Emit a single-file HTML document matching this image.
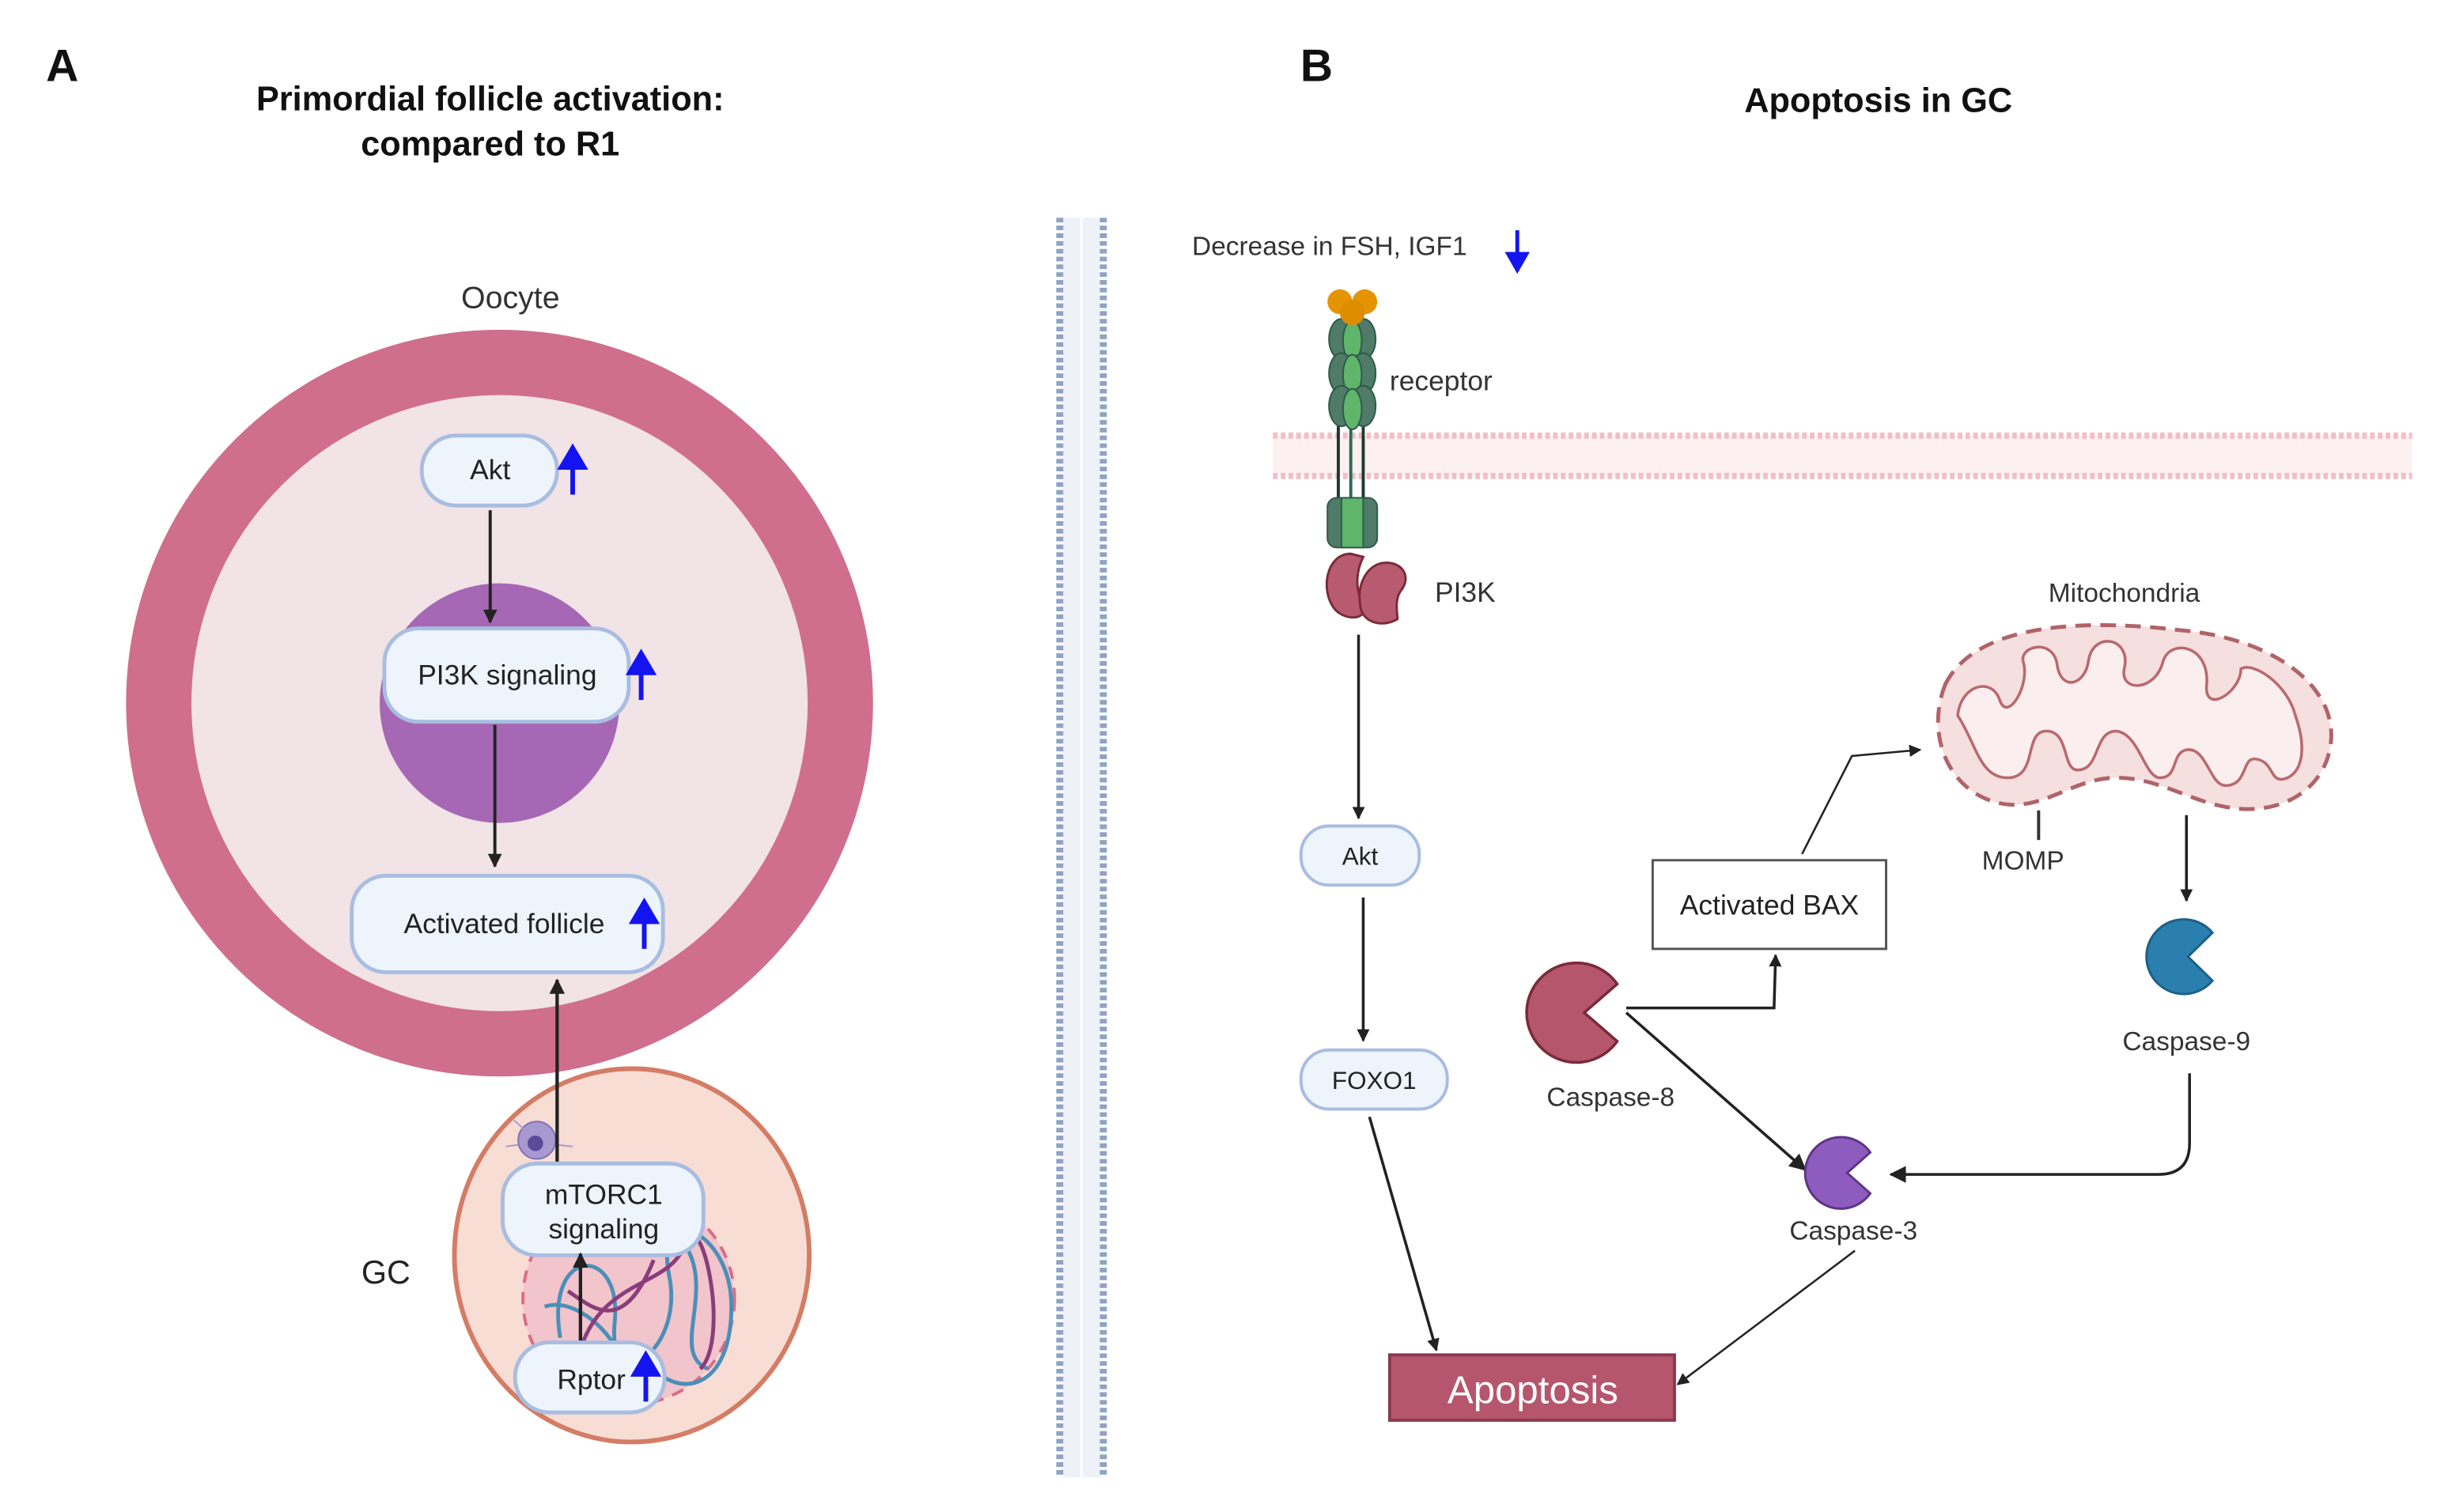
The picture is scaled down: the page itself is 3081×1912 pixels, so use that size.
<!DOCTYPE html>
<html><head><meta charset="utf-8"><style>html,body{margin:0;padding:0;background:#fff}svg{display:block}text{font-family:"Liberation Sans",sans-serif}</style></head>
<body>
<svg width="3081" height="1912" viewBox="0 0 1566 972" preserveAspectRatio="none" xmlns="http://www.w3.org/2000/svg">
<defs>
<marker id="ah" viewBox="0 0 10 10" refX="9" refY="5" markerWidth="4.5" markerHeight="4.5" orient="auto"><path d="M0,0 L10,5 L0,10 z" fill="#222"/></marker>
<marker id="ahs" viewBox="0 0 10 10" refX="9" refY="5" markerWidth="6" markerHeight="6" orient="auto"><path d="M0,0 L10,5 L0,10 z" fill="#222"/></marker>
</defs>

<!-- Panel A -->
<text x="40" y="52" font-size="29" font-weight="bold" text-anchor="middle" fill="#111">A</text>
<text x="315" y="71" font-size="22" font-weight="bold" text-anchor="middle" fill="#111">Primordial follicle activation:</text>
<text x="315" y="100" font-size="22" font-weight="bold" text-anchor="middle" fill="#111">compared to R1</text>
<text x="328" y="198" font-size="20" text-anchor="middle" fill="#333">Oocyte</text>

<circle cx="321" cy="452" r="219" fill="#f1e3e6" stroke="#d06e8e" stroke-width="42"/>
<circle cx="321" cy="452" r="77" fill="#a668b5"/>

<rect x="271" y="280" width="87" height="45" rx="22" fill="#eef4fc" stroke="#a8bde0" stroke-width="2.5"/>
<text x="315" y="308" font-size="18" text-anchor="middle" fill="#222">Akt</text>
<line x1="315" y1="328" x2="315" y2="400" stroke="#222" stroke-width="2" marker-end="url(#ah)"/>
<rect x="247" y="404" width="157" height="60" rx="22" fill="#eef4fc" stroke="#a8bde0" stroke-width="2.5"/>
<text x="326" y="440" font-size="18" text-anchor="middle" fill="#222">PI3K signaling</text>
<line x1="318" y1="466" x2="318" y2="557" stroke="#222" stroke-width="2" marker-end="url(#ah)"/>
<rect x="226" y="563" width="200" height="62" rx="22" fill="#eef4fc" stroke="#a8bde0" stroke-width="2.5"/>
<text x="324" y="600" font-size="18" text-anchor="middle" fill="#222">Activated follicle</text>

<!-- GC -->
<ellipse cx="406" cy="807" rx="114" ry="120" fill="#f8ddd5" stroke="#d47c65" stroke-width="3"/>
<circle cx="404" cy="835" r="68" fill="#f2c4cc" stroke="#dc6c86" stroke-width="2" stroke-dasharray="8,6"/>
<path d="M360 860 C350 800 400 800 395 850 S440 870 430 820 S470 790 470 840 S440 900 420 880 M350 840 C380 830 420 890 390 890 M440 800 C460 830 430 870 455 880" fill="none" stroke="#4a8fb8" stroke-width="2.5"/>
<path d="M370 880 C380 820 430 830 440 800 S470 860 450 880 M420 810 C400 860 380 840 365 830" fill="none" stroke="#8a3d7a" stroke-width="2.5"/>
<circle cx="345" cy="733" r="12" fill="#a89ad0" stroke="#8070b5" stroke-width="1"/>
<circle cx="344" cy="735" r="5" fill="#5a4a9a"/>
<g stroke="#a89ad0" stroke-width="1"><line x1="330" y1="720" x2="337" y2="726"/><line x1="325" y1="737" x2="333" y2="736"/><line x1="358" y1="736" x2="368" y2="737"/></g>
<text x="248" y="825" font-size="21" text-anchor="middle" fill="#222">GC</text>
<line x1="358" y1="747" x2="358" y2="630" stroke="#222" stroke-width="2.2" marker-end="url(#ah)"/>
<rect x="323" y="748" width="129" height="59" rx="22" fill="#eef4fc" stroke="#a8bde0" stroke-width="2.5"/>
<text x="388" y="774" font-size="18" text-anchor="middle" fill="#222">mTORC1</text>
<text x="388" y="796" font-size="18" text-anchor="middle" fill="#222">signaling</text>
<line x1="373" y1="863" x2="373" y2="806" stroke="#222" stroke-width="2.2" marker-end="url(#ah)"/>
<rect x="331" y="863" width="96" height="45" rx="22" fill="#eef4fc" stroke="#a8bde0" stroke-width="2.5"/>
<text x="380" y="893" font-size="18" text-anchor="middle" fill="#222">Rptor</text>

<!-- blue up arrows -->
<g fill="#1414f0" stroke="#1414f0">
<line x1="368" y1="318" x2="368" y2="295" stroke-width="3"/><path d="M358 302 L368 285 L378 302 z" stroke="none"/>
<line x1="412" y1="450" x2="412" y2="427" stroke-width="3"/><path d="M402 434 L412 417 L422 434 z" stroke="none"/>
<line x1="414" y1="610" x2="414" y2="587" stroke-width="3"/><path d="M404 594 L414 577 L424 594 z" stroke="none"/>
<line x1="415" y1="901" x2="415" y2="878" stroke-width="3"/><path d="M405 885 L415 868 L425 885 z" stroke="none"/>
<line x1="975" y1="148" x2="975" y2="168" stroke-width="2.5"/><path d="M967 162 L975 176 L983 162 z" stroke="none"/>
</g>

<!-- vertical membrane -->
<rect x="683" y="140" width="24" height="810" fill="#eef1f8"/>
<line x1="681" y1="140" x2="681" y2="950" stroke="#8ea3c6" stroke-width="4.5" stroke-dasharray="3,2"/>
<line x1="709" y1="140" x2="709" y2="950" stroke="#8ea3c6" stroke-width="4.5" stroke-dasharray="3,2"/>
<line x1="695" y1="140" x2="695" y2="950" stroke="#fff" stroke-width="1.5"/>

<!-- Panel B -->
<text x="846" y="52" font-size="29" font-weight="bold" text-anchor="middle" fill="#111">B</text>
<text x="1207" y="72" font-size="22" font-weight="bold" text-anchor="middle" fill="#111">Apoptosis in GC</text>
<text x="766" y="164" font-size="17" fill="#333">Decrease  in FSH, IGF1</text>

<!-- horizontal membrane -->
<rect x="818" y="280" width="732" height="26" fill="#fcf0f1"/>
<line x1="818" y1="280" x2="1550" y2="280" stroke="#f2bfc5" stroke-width="4" stroke-dasharray="3,2"/>
<line x1="818" y1="306" x2="1550" y2="306" stroke="#f2bfc5" stroke-width="4" stroke-dasharray="3,2"/>

<!-- receptor -->
<g stroke="#2e5a4a" stroke-width="1">
<line x1="860" y1="265" x2="860" y2="320" stroke="#1f3a30" stroke-width="2"/>
<line x1="868" y1="265" x2="868" y2="320" stroke="#2e6a5a" stroke-width="2"/>
<line x1="876" y1="265" x2="876" y2="320" stroke="#1f3a30" stroke-width="2"/>
<ellipse cx="862" cy="218" rx="8" ry="13" fill="#4f7b68"/><ellipse cx="876" cy="218" rx="8" ry="13" fill="#4f7b68"/><ellipse cx="869" cy="219" rx="6" ry="13" fill="#5fb56a"/>
<ellipse cx="862" cy="240" rx="8" ry="13" fill="#4f7b68"/><ellipse cx="876" cy="240" rx="8" ry="13" fill="#4f7b68"/><ellipse cx="869" cy="241" rx="6" ry="13" fill="#5fb56a"/>
<ellipse cx="862" cy="261" rx="8" ry="13" fill="#4f7b68"/><ellipse cx="876" cy="261" rx="8" ry="13" fill="#4f7b68"/><ellipse cx="869" cy="263" rx="6" ry="13" fill="#5fb56a"/>
<rect x="853" y="320" width="32" height="32" rx="6" fill="#4f7b68"/><rect x="862" y="320" width="14" height="32" fill="#5fb56a"/>
</g>
<circle cx="861" cy="194" r="8" fill="#e59400"/><circle cx="877" cy="194" r="8" fill="#e59400"/><circle cx="869" cy="201" r="8" fill="#de8c00"/>
<text x="893" y="251" font-size="18" fill="#333">receptor</text>
<!-- PI3K -->
<path d="M868 356 C852 356 848 380 858 392 C866 400 880 398 876 388 C870 378 872 366 876 358 Z" fill="#b85a70" stroke="#7a2a3a" stroke-width="1.5"/>
<path d="M888 362 C900 360 908 370 900 380 C896 386 898 394 898 398 C888 404 874 400 874 388 C872 376 878 364 888 362 Z" fill="#b85a70" stroke="#7a2a3a" stroke-width="1.5"/>
<text x="922" y="387" font-size="18" fill="#333">PI3K</text>

<line x1="873" y1="408" x2="873" y2="526" stroke="#222" stroke-width="1.8" marker-end="url(#ah)"/>
<rect x="836" y="531" width="76" height="38" rx="18" fill="#eef4fc" stroke="#a8bde0" stroke-width="2"/>
<text x="874" y="556" font-size="16" text-anchor="middle" fill="#222">Akt</text>
<line x1="876" y1="577" x2="876" y2="669" stroke="#222" stroke-width="1.8" marker-end="url(#ah)"/>
<rect x="836" y="675" width="94" height="38" rx="18" fill="#eef4fc" stroke="#a8bde0" stroke-width="2"/>
<text x="883" y="700" font-size="16" text-anchor="middle" fill="#222">FOXO1</text>
<line x1="880" y1="718" x2="923" y2="868" stroke="#222" stroke-width="1.8" marker-end="url(#ah)"/>

<rect x="893" y="871" width="183" height="42" fill="#b5566d" stroke="#8a3a4d" stroke-width="2"/>
<text x="985" y="902" font-size="25" text-anchor="middle" fill="#fff">Apoptosis</text>
<line x1="1192" y1="804" x2="1078" y2="890" stroke="#222" stroke-width="1.3" marker-end="url(#ahs)"/>

<rect x="1062" y="553" width="150" height="57" fill="#fff" stroke="#555" stroke-width="1.5"/>
<text x="1137" y="588" font-size="18" text-anchor="middle" fill="#222">Activated BAX</text>
<path d="M1158 549 L1190 486 L1234 482" fill="none" stroke="#222" stroke-width="1.3" marker-end="url(#ahs)"/>

<!-- mitochondria -->
<path d="M1250 440 C1270 400 1340 398 1400 405 C1460 410 1500 440 1498 475 C1496 505 1470 522 1440 520 C1410 518 1390 500 1360 500 C1330 500 1310 525 1280 515 C1250 505 1238 470 1250 440 Z" fill="#f6dfdf" stroke="#b0636a" stroke-width="2.5" stroke-dasharray="10,6"/>
<path d="M1258 460 C1260 440 1280 435 1285 450 C1290 465 1305 440 1300 425 C1298 415 1320 410 1322 428 C1325 445 1340 440 1342 425 C1345 405 1370 410 1365 430 C1362 445 1385 445 1390 425 C1395 410 1420 415 1418 440 C1416 460 1440 445 1440 430 C1448 425 1470 440 1475 460 C1482 480 1480 495 1470 500 C1458 505 1462 490 1450 488 C1440 486 1445 505 1430 505 C1420 505 1418 480 1405 482 C1395 484 1400 500 1388 500 C1378 500 1375 472 1360 470 C1345 470 1350 495 1335 495 C1325 495 1330 470 1315 470 C1300 470 1310 500 1290 500 C1272 500 1270 478 1258 460 Z" fill="#fbeeee" stroke="#b86a6f" stroke-width="1.8"/>
<text x="1365" y="387" font-size="17" text-anchor="middle" fill="#333">Mitochondria</text>
<line x1="1310" y1="521" x2="1310" y2="540" stroke="#333" stroke-width="2"/>
<text x="1300" y="559" font-size="17" text-anchor="middle" fill="#333">MOMP</text>
<line x1="1405" y1="524" x2="1405" y2="579" stroke="#222" stroke-width="1.8" marker-end="url(#ah)"/>

<!-- caspases -->
<path d="M1421.7 599.6 A24 24 0 1 0 1421.7 630.4 L1406 615 Z" fill="#2a7fae" stroke="#1d5f85" stroke-width="1.5"/>
<text x="1405" y="675" font-size="17" text-anchor="middle" fill="#333">Caspase-9</text>
<path d="M1407 690 L1407 735 Q1407 755 1387 755 L1215 755" fill="none" stroke="#222" stroke-width="1.8" marker-end="url(#ahs)"/>

<path d="M1039.2 632.6 A32 32 0 1 0 1039.2 669.4 L1018 651 Z" fill="#b5566d" stroke="#7a2a3a" stroke-width="1.8"/>
<text x="1035" y="711" font-size="17" text-anchor="middle" fill="#333">Caspase-8</text>
<path d="M1045 648 L1140 648 L1141 614" fill="none" stroke="#222" stroke-width="1.8" marker-end="url(#ah)"/>
<line x1="1045" y1="651" x2="1160" y2="752" stroke="#222" stroke-width="1.8" marker-end="url(#ahs)"/>

<path d="M1201.8 740.8 A23 23 0 1 0 1201.8 767.2 L1187 754 Z" fill="#8e5bbf" stroke="#5e3585" stroke-width="1.5"/>
<text x="1191" y="797" font-size="17" text-anchor="middle" fill="#333">Caspase-3</text>
</svg>
</body></html>
